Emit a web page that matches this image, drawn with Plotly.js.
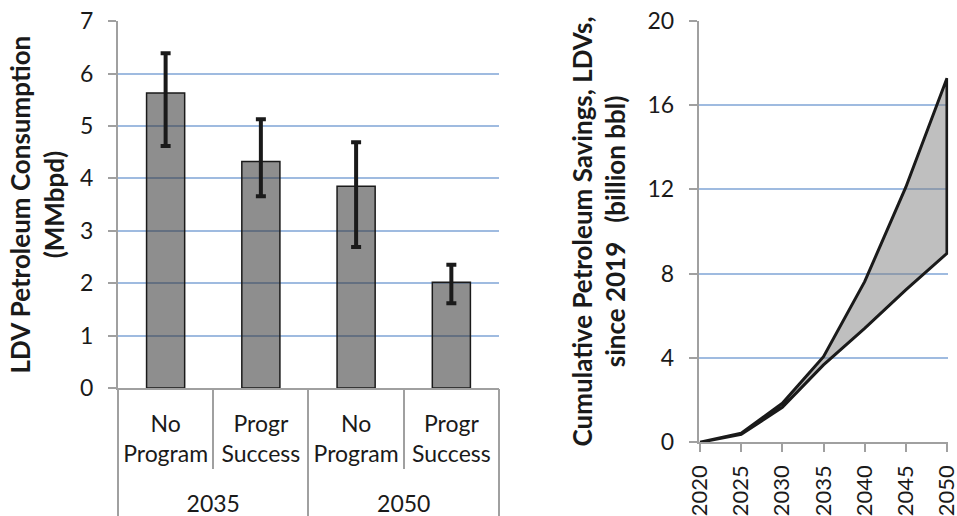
<!DOCTYPE html>
<html>
<head>
<meta charset="utf-8">
<script src="https://cdn.plot.ly/plotly-3.0.1.min.js"></script>
<style>
html,body{margin:0;padding:0;background:#fff;overflow:hidden;}
#chart{width:957px;height:516px;}
</style>
</head>
<body>
<div id="chart"></div>
<script>
// Left chart data
const groupYears = ['2035', '2035', '2050', '2050'];
const scenarios = ['No<br>Program', 'Progr<br>Success', 'No<br>Program', 'Progr<br>Success'];
const consumption = [5.63, 4.32, 3.85, 2.02];
const errHigh = [6.39, 5.13, 4.69, 2.35];
const errLow = [4.62, 3.66, 2.69, 1.62];

// Right chart data
const savingYears = [2020, 2025, 2030, 2035, 2040, 2045, 2050];
const savingsHigh = [0, 0.43, 1.85, 4.06, 7.62, 12.1, 17.27];
const savingsLow = [0, 0.38, 1.66, 3.67, 5.40, 7.23, 8.96];

// derived category positions (index-based)
const positions = scenarios.map((_, i) => i + 1);
const boundaries = [positions[0] - 0.5].concat(positions.map(p => p + 0.5));
const groupNames = [...new Set(groupYears)];
const groupCenters = groupNames.map(g => {
  const ps = positions.filter((_, i) => groupYears[i] === g);
  return (ps[0] + ps[ps.length - 1]) / 2;
});
const groupBounds = [positions[0] - 0.5].concat(groupNames.map(g => {
  const ps = positions.filter((_, i) => groupYears[i] === g);
  return ps[ps.length - 1] + 0.5;
}));

const FONT = 'Lato, "Open Sans", sans-serif';
const TXT = '#1a1a1a';
const AXIS = '#a0a0a0';
const GRID = '#9fbbe0';
const xRange = [positions[0] - 0.5, positions[positions.length - 1] + 0.5];
const leftDomain = [0.1233, 0.5214];

const barTrace = {
  type: 'bar',
  x: positions,
  y: consumption,
  width: 0.4,
  marker: {color: 'rgba(50,50,50,0.55)', line: {color: '#1a1a1a', width: 1.5}},
  error_y: {
    type: 'data', symmetric: false,
    array: errHigh.map((h, i) => h - consumption[i]),
    arrayminus: errLow.map((l, i) => consumption[i] - l),
    color: '#1a1a1a', thickness: 4, width: 5
  },
  xaxis: 'x', yaxis: 'y', hoverinfo: 'y'
};

const areaTrace = {
  type: 'scatter', mode: 'lines',
  x: savingYears.concat(savingYears.slice().reverse()),
  y: savingsHigh.concat(savingsLow.slice().reverse()),
  fill: 'toself', fillcolor: 'rgba(128,128,128,0.5)',
  line: {color: '#1a1a1a', width: 3, simplify: false},
  xaxis: 'x2', yaxis: 'y2'
};

// empty helper traces so the overlay (divider / group label) axes are drawn
const helperTraces = ['x3', 'x4', 'x5'].map(ax => ({
  type: 'scatter', mode: 'markers', x: [], y: [], xaxis: ax, yaxis: 'y',
  showlegend: false, hoverinfo: 'skip'
}));

const overlayBase = {
  overlaying: 'x', anchor: 'y', domain: leftDomain, range: xRange,
  showgrid: false, showline: false, zeroline: false, fixedrange: true
};

const layout = {
  width: 957, height: 516,
  margin: {l: 0, r: 0, t: 0, b: 0},
  paper_bgcolor: '#fff', plot_bgcolor: 'rgba(0,0,0,0)',
  showlegend: false,
  font: {family: FONT, size: 23, color: TXT},
  xaxis: {
    domain: leftDomain, anchor: 'y', range: xRange,
    tickvals: positions, ticktext: scenarios,
    showline: true, linecolor: AXIS, linewidth: 2,
    ticks: '', showgrid: false, zeroline: false,
    ticklabelstandoff: 14,
    tickfont: {family: FONT, size: 23, color: TXT}
  },
  xaxis3: Object.assign({}, overlayBase, {
    tickvals: boundaries,
    ticks: 'outside', ticklen: 80, tickcolor: AXIS, tickwidth: 2,
    showticklabels: false
  }),
  xaxis4: Object.assign({}, overlayBase, {
    tickvals: groupBounds,
    ticks: 'outside', ticklen: 130, tickcolor: AXIS, tickwidth: 2,
    showticklabels: false
  }),
  xaxis5: Object.assign({}, overlayBase, {
    tickvals: groupCenters, ticktext: groupNames,
    ticks: '', ticklabelstandoff: 100,
    tickfont: {family: FONT, size: 23, color: TXT}
  }),
  yaxis: {
    domain: [0.248, 0.959], anchor: 'x',
    range: [0, 7], dtick: 1,
    showline: true, linecolor: AXIS, linewidth: 2,
    ticks: 'outside', ticklen: 8, tickcolor: AXIS, tickwidth: 2,
    gridcolor: GRID, gridwidth: 2, zeroline: false,
    ticklabelstandoff: 10,
    tickfont: {family: FONT, size: 23, color: TXT},
    title: {text: '<b>LDV Petroleum Consumption<br>(MMbpd)</b>', font: {family: FONT, size: 26, color: TXT}, standoff: 8}
  },
  xaxis2: {
    domain: [0.7302, 0.9908], anchor: 'y2',
    range: [2019.85, 2050.15], tickvals: savingYears,
    tickangle: -90,
    showline: true, linecolor: AXIS, linewidth: 2,
    ticks: 'outside', ticklen: 8, tickcolor: AXIS, tickwidth: 2,
    showgrid: false, zeroline: false,
    ticklabelstandoff: 4, ticklabeloverflow: 'allow',
    tickfont: {family: FONT, size: 22, color: TXT}
  },
  yaxis2: {
    domain: [0.1428, 0.960], anchor: 'x2',
    range: [0, 20], dtick: 4,
    showline: true, linecolor: AXIS, linewidth: 2,
    ticks: 'outside', ticklen: 8, tickcolor: AXIS, tickwidth: 2,
    gridcolor: GRID, gridwidth: 2, zeroline: false,
    ticklabelstandoff: 10,
    tickfont: {family: FONT, size: 23, color: TXT},
    title: {text: '<b>Cumulative Petroleum Savings, LDVs,<br>since 2019   (billion bbl)</b>', font: {family: FONT, size: 26, color: TXT}, standoff: 14}
  }
};

Plotly.newPlot('chart', [barTrace, areaTrace].concat(helperTraces), layout, {displayModeBar: false, staticPlot: true});
</script>
</body>
</html>
